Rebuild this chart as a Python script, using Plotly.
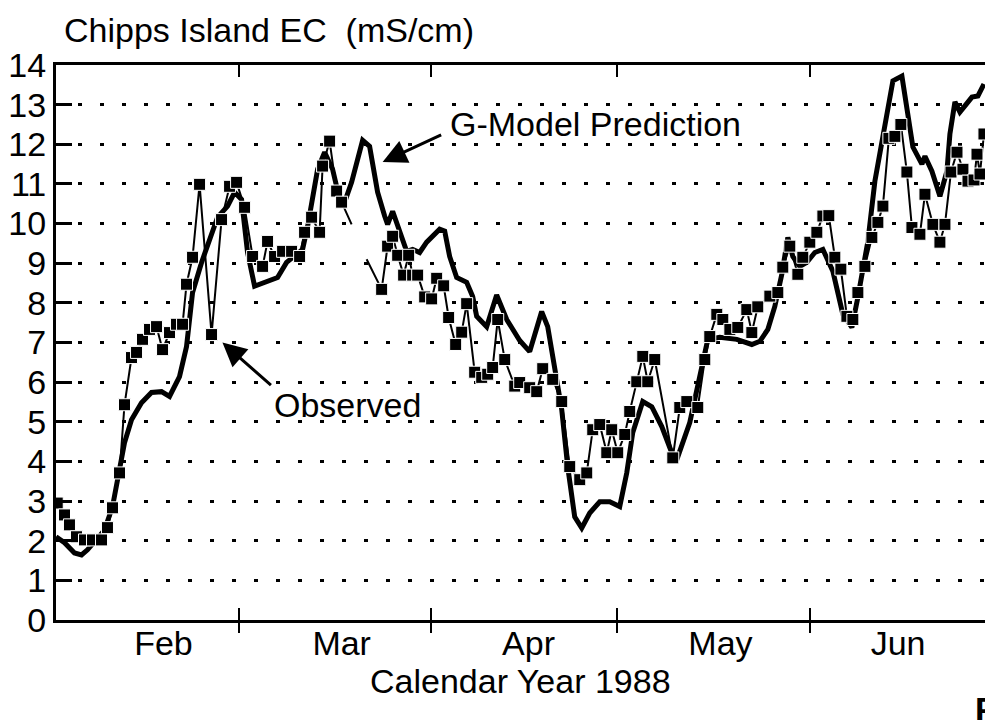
import plotly.graph_objects as go
import pandas as pd

# Days after 1 Feb 1988 and EC values (mS/cm)
obs_day = [-0.2, 0.97, 1.77, 2.9, 4.19, 5.48, 6.93, 7.89, 8.7, 9.83, 10.63, 11.76, 12.57, 13.53,
           14.66, 15.79, 16.76, 17.88, 19.01, 19.98, 20.62, 21.59, 22.72, 24.65, 26.26, 27.55,
           28.68, 29.97, 31.26, 32.87, 33.67, 34.8, 36.09, 37.54, 38.83, 39.63, 40.76, 42.05,
           42.53, 43.66, 44.79, 45.59, 47.2, 48.4, 49.62, 52.04, 53.0, 53.81, 54.62, 55.58,
           56.39, 57.03, 57.84, 58.97, 60.09, 60.9, 62.03, 62.83, 63.96, 64.93, 65.73, 67.02,
           68.15, 69.12, 69.92, 70.73, 71.86, 73.47, 74.27, 75.88, 77.01, 77.98, 79.59, 81.04,
           82.33, 83.94, 85.07, 86.03, 87.16, 88.29, 89.09, 90.06, 91.19, 91.99, 93.12, 94.09,
           94.89, 96.02, 98.92, 100.05, 101.18, 102.95, 104.08, 104.88, 106.01, 106.98, 108.11,
           109.39, 110.84, 111.65, 112.61, 114.55, 115.84, 116.64, 117.77, 119.06, 119.86,
           120.99, 122.12, 123.09, 124.05, 125.02, 125.99, 126.96, 127.92, 128.73, 129.86,
           130.98, 131.95, 132.76, 133.72, 134.69, 135.65, 136.62, 137.43, 138.72, 139.53,
           140.81, 141.94, 142.75, 143.72, 144.69, 145.65, 146.46, 147.43, 147.91, 148.39, 149.03]
obs_ec = [2.95, 2.65, 2.4, 2.1, 2.02, 2.02, 2.02, 2.33, 2.83, 3.71, 5.43, 6.62, 6.75, 7.08,
          7.33, 7.4, 6.82, 7.25, 7.46, 7.46, 8.47, 9.15, 10.99, 7.2, 10.1, 10.94,
          11.04, 10.41, 9.17, 8.92, 9.55, 9.17, 9.3, 9.3, 9.17, 9.78, 10.16, 9.78,
          11.45, 12.08, 10.82, 10.54, 9.98, None, 9.1, 8.34, 9.43, 9.68, 9.2, 8.7,
          9.2, 8.7, 8.7, 8.15, 8.1, 8.62, 8.43, 7.63, 6.95, 7.26, 7.98, 6.25,
          6.12, 6.2, 6.37, 7.58, 6.57, 5.9, 5.99, 5.86, 5.76, 6.34, 6.07, 5.51,
          3.87, 3.54, 3.71, 4.8, 4.93, 4.22, 4.8, 4.22, 4.68, 5.26, 6.01, 6.65,
          6.01, 6.57, 4.09, 5.36, 5.51, 5.36, 6.57, 7.15, 7.71, 7.58, 7.33,
          7.38, 7.83, 7.25, 7.9, 8.17, 8.26, 8.9, 9.43, 8.72, 9.15,
          9.53, 9.78, 10.19, 10.2, 9.15, 8.85, 7.66, 7.58, 8.26, 8.92,
          9.65, 10.03, 10.44, 12.15, 12.2, 12.5, 11.3, 9.9, 9.73, 10.74,
          9.98, 9.53, 9.98, 11.3, 11.8, 11.37, 11.07, 11.1, 11.75, 11.25, 12.26]

model_day = [-0.4, 0.97, 2.58, 3.71, 4.67, 6.12, 7.41, 8.7, 9.83, 10.63, 11.76, 13.37, 14.98,
             16.59, 17.88, 19.49, 20.62, 21.59, 23.04, 24.65, 25.62, 27.23, 28.36, 29.48,
             30.45, 31.58, 33.51, 35.28, 36.73, 38.02, 39.31, 40.12, 41.73, 42.86, 44.14,
             45.27, 46.08, 47.2, 48.98, 50.1, 51.39, 52.52, 53.0, 53.81, 55.26, 56.07, 57.03,
             58.16, 59.29, 61.38, 62.19, 62.99, 64.12, 65.73, 66.7, 67.34, 68.95, 70.56,
             72.18, 74.27, 75.88, 77.81, 78.78, 79.91, 81.04, 82.0, 83.13, 84.26, 85.55,
             87.16, 88.77, 90.38, 91.51, 92.48, 94.09, 95.54, 97.15, 98.76, 99.56, 101.66,
             103.75, 104.56, 106.49, 109.23, 111.65, 112.94, 114.23, 115.35, 116.48, 117.45,
             118.25, 119.38, 120.51, 121.8, 123.09, 124.7, 126.31, 127.76, 128.73, 130.34,
             131.47, 132.76, 134.37, 135.82, 136.78, 137.59, 139.04, 139.53, 140.65, 141.94,
             143.07, 143.55, 144.36, 145.16, 147.1, 148.06, 149.03]
model_ec = [2.1, 1.95, 1.69, 1.64, 1.77, 2.02, 2.27, 2.86, 3.79, 4.47, 5.05, 5.48, 5.74,
            5.76, 5.64, 6.14, 6.9, 8.26, 9.02, 9.68, 10.16, 10.44, 10.79, 10.61,
            9.27, 8.42, 8.52, 8.64, 9.02, 9.17, 9.35, 9.93, 11.37, 11.8, 11.37,
            10.61, 10.54, 11.04, 12.1, 11.95, 10.79, 10.19, 9.98, 10.31, 9.6, 9.3, 9.35,
            9.27, 9.53, 9.86, 9.81, 9.17, 8.64, 8.52, 8.16, 7.66, 7.4, 8.2,
            7.58, 7.05, 6.77, 7.78, 7.4, 6.32, 5.31, 3.87, 2.6, 2.32, 2.7,
            2.98, 2.98, 2.86, 3.71, 4.73, 5.51, 5.38, 4.88, 4.22, 4.04, 4.98,
            6.49, 7.08, 7.13, 7.08, 6.95, 7.03, 7.33, 7.91, 8.72, 9.65,
            9.17, 8.92, 9.02, 9.27, 9.35, 8.8, 7.71, 7.38, 8.14, 9.55,
            11.07, 12.18, 13.6, 13.72, 12.84, 11.93, 11.5, 11.7, 11.32, 10.69,
            11.32, 12.26, 13.07, 12.81, 13.19, 13.22, 13.52]

y_ticks = list(range(0, 15))
month_bounds = ["1988-03-01", "1988-04-01", "1988-05-01", "1988-06-01"]
month_names = ["Feb", "Mar", "Apr", "May", "Jun"]
month_label_days = [16.9, 45.6, 75.7, 106.6, 135.2]
title_text = "Chipps Island EC  (mS/cm)"
x_title = "Calendar Year 1988"
model_label = "G-Model Prediction"
obs_label = "Observed"

base = pd.Timestamp("1988-02-01")


def to_dates(days):
    return [base + pd.Timedelta(days=d) for d in days]


x_range = [base + pd.Timedelta(days=-0.4), base + pd.Timedelta(days=149.2)]

FONT = "Liberation Sans, Arial, Helvetica, sans-serif"
FS = 34

# the observed segments either side of the data gap end without a marker
gap = obs_ec.index(None)
obs_sizes = [12] * len(obs_ec)
obs_sizes[gap - 1] = 0
obs_sizes[gap + 1] = 0

fig = go.Figure()
fig.add_trace(go.Scatter(x=to_dates(model_day), y=model_ec, mode="lines",
                         line=dict(color="black", width=5), showlegend=False,
                         hoverinfo="skip"))
fig.add_trace(go.Scatter(x=to_dates(obs_day), y=obs_ec, mode="lines+markers",
                         line=dict(color="black", width=2),
                         marker=dict(symbol="square", size=obs_sizes, color="black",
                                     opacity=1),
                         connectgaps=False, showlegend=False))
# invisible traces to carry the secondary axes (outward ticks, month labels)
fig.add_trace(go.Scatter(x=x_range, y=[None, None], xaxis="x2", showlegend=False,
                         hoverinfo="skip"))
fig.add_trace(go.Scatter(x=x_range, y=[None, None], xaxis="x3", showlegend=False,
                         hoverinfo="skip"))

common_x = dict(type="date", range=x_range, showgrid=False, zeroline=False,
                automargin=False)

fig.update_layout(
    width=985, height=720,
    margin=dict(l=56, r=0, t=65, b=100, autoexpand=False),
    paper_bgcolor="white", plot_bgcolor="white",
    font=dict(family=FONT, size=FS, color="black"),
    xaxis=dict(**common_x, tickvals=month_bounds,
               ticks="inside", ticklen=12, tickwidth=2, tickcolor="black",
               showline=True, linewidth=3, linecolor="black", mirror="ticks",
               showticklabels=False),
    xaxis2=dict(**common_x, overlaying="x", anchor="y", matches="x",
                tickvals=month_bounds, ticks="outside", ticklen=12, tickwidth=2,
                tickcolor="black", showticklabels=False, showline=False),
    xaxis3=dict(**common_x, overlaying="x", anchor="y", matches="x",
                tickvals=to_dates(month_label_days), ticktext=month_names,
                ticks="", showline=False, ticklabelstandoff=0,
                tickfont=dict(family=FONT, size=FS)),
    yaxis=dict(range=[0, 14], tickvals=y_ticks, ticks="inside", ticklen=16,
               tickwidth=2.5, tickcolor="black", showline=True, linewidth=3,
               linecolor="black", mirror=False, showgrid=True, gridcolor="black",
               griddash="4px,18px", gridwidth=2.5, zeroline=False, automargin=False,
               ticklabelstandoff=0, tickfont=dict(family=FONT, size=FS)),
)

tip_model = base + pd.Timedelta(days=52.2)
tip_obs = base + pd.Timedelta(days=26.4)
fig.add_annotation(x=tip_model, y=11.55, text="", showarrow=True, ax=60, ay=-28,
                   arrowhead=2, arrowsize=1.6, arrowwidth=3, arrowcolor="black")
fig.add_annotation(x=tip_obs, y=7.0, text="", showarrow=True, ax=50, ay=44,
                   arrowhead=2, arrowsize=1.6, arrowwidth=3, arrowcolor="black")
fig.add_annotation(x=base + pd.Timedelta(days=86.4), y=12.51, text=model_label,
                   showarrow=False, font=dict(size=FS))
fig.add_annotation(x=base + pd.Timedelta(days=46.6), y=5.43, text=obs_label,
                   showarrow=False, font=dict(size=FS))
fig.add_annotation(xref="paper", yref="paper", x=0.006, y=1.063, xanchor="left",
                   yanchor="middle", text=title_text, showarrow=False, font=dict(size=FS))
fig.add_annotation(xref="paper", yref="paper", x=0.5, y=-0.11, xanchor="center",
                   yanchor="middle", text=x_title, showarrow=False, font=dict(size=FS))
fig.add_annotation(xref="paper", yref="paper", x=0.987, y=-0.16, xanchor="left",
                   yanchor="middle", text="<b>P</b>", showarrow=False, font=dict(size=FS))

fig.write_html("out.html", config={"displayModeBar": False},
               post_script="document.body.style.margin='0';"
                           "document.body.style.overflow='hidden';")
